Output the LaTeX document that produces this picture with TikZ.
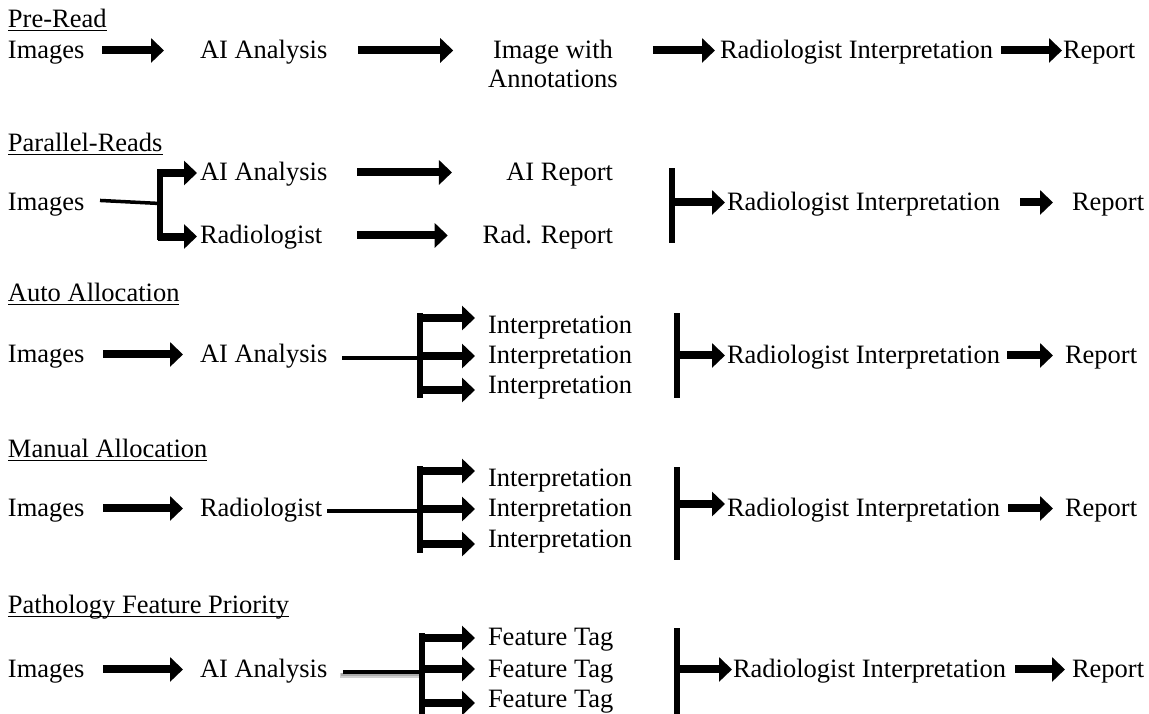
\documentclass[tikz,border=0pt]{standalone}
\usepackage{fontspec}
\setmainfont{Liberation Serif}
\usetikzlibrary{arrows.meta}
\begin{document}
\begin{tikzpicture}[x=1pt,y=-1pt,
  every node/.style={font=\fontsize{26.5}{29}\selectfont, inner sep=0pt, outer sep=0pt},
  lbl/.style={anchor=base west, text height=19.9pt, text depth=4.8pt},
  lblr/.style={anchor=base east, text height=19.9pt, text depth=4.8pt},
  ttl/.style={anchor=base west},
  uline/.style={line width=1.8pt},
  blk/.style={line width=8pt, -{Triangle[width=24pt,length=13pt]}},
  bar/.style={line width=5.5pt},
  lnk/.style={line width=3.5pt},
  shade/.style={line width=5pt, black, opacity=0.18},
]
\useasboundingbox (0,0) rectangle (1149,713);

% ---------- Pre-Read ----------
\node[ttl] (t1) at (8,27) {Pre-Read};
\draw[uline] ([yshift=-3.5pt]t1.base west) -- ([yshift=-3.5pt]t1.base east);
\node[lbl] (img1) at (8,58) {Images};
\node[lbl] (ai1) at (200,58) {AI Analysis};
% two-line label: its base anchor sits on the last line
\node[anchor=base, align=center] (iwa) at (553,87) {Image with\\Annotations};
\node[lbl] (ri1) at (720,58) {Radiologist Interpretation};
\node[lbl] (rep1) at (1063,58) {Report};
\draw[blk, shorten <=17.5pt, shorten >=36pt] (img1.east) -- (ai1.west);
\draw[blk, shorten <=30.5pt, shorten >=35pt] (ai1.east) -- (ai1.east -| iwa.west);
\draw[blk, shorten <=35pt, shorten >=5pt] (ri1.west -| iwa.east) -- (ri1.west);
\draw[blk, shorten <=8pt, shorten >=1pt] (ri1.east) -- (rep1.west);

% ---------- Parallel-Reads ----------
\node[ttl] (t2) at (8,151) {Parallel-Reads};
\draw[uline] ([yshift=-3.5pt]t2.base west) -- ([yshift=-3.5pt]t2.base east);
\node[lbl] (img2) at (8,210) {Images};
\node[lbl] (ai2) at (200,180) {AI Analysis};
\node[lbl] (rad2) at (200,243) {Radiologist};
\node[lblr] (air2) at (613,180) {AI Report};
\node[lblr] (radr2) at (613,243) {Rad. Report};
\node[lbl] (ri2) at (727,210) {Radiologist Interpretation};
\node[lbl] (rep2) at (1072,210) {Report};
\coordinate (j2) at (160,203.5);
\coordinate (b2t) at (160,169);
\coordinate (b2b) at (160,240);
\coordinate (s2a) at (157.5,173);
\coordinate (s2b) at (157.5,236.5);
\coordinate (r2t) at (672,168);
\coordinate (r2b) at (672,243);
\draw[lnk] ([xshift=15.5pt,yshift=2pt]img2.east) -- (j2);
\draw[bar] (b2t) -- (b2b);
\draw[blk, shorten >=3pt] (s2a) -- (s2a -| ai2.west);
\draw[blk, shorten >=3pt] (s2b) -- (s2b -| rad2.west);
\draw[blk, shorten <=29.7pt, shorten >=54.3pt] (ai2.east) -- (ai2.east -| air2.west);
\draw[blk, shorten <=34.8pt, shorten >=35pt] (rad2.east) -- (rad2.east -| radr2.west);
\draw[bar] (r2t) -- (r2b);
\draw[blk, shorten >=2pt] (r2t |- ri2.west) -- (ri2.west);
\draw[blk, shorten <=20pt, shorten >=19pt] (ri2.east) -- (rep2.west);

% ---------- Auto Allocation ----------
\node[ttl] (t3) at (8,301) {Auto Allocation};
\draw[uline] ([yshift=-3.5pt]t3.base west) -- ([yshift=-3.5pt]t3.base east);
\node[lbl] (img3) at (8,362) {Images};
\node[lbl] (ai3) at (200,362) {AI Analysis};
\node[lbl] (int3a) at (488,333) {Interpretation};
\node[lbl] (int3b) at (488,363) {Interpretation};
\node[lbl] (int3c) at (488,393) {Interpretation};
\node[lbl] (ri3) at (727,363) {Radiologist Interpretation};
\node[lbl] (rep3) at (1065,363) {Report};
\coordinate (j3) at (420,358);
\coordinate (b3t) at (420,313);
\coordinate (b3b) at (420,398);
\coordinate (s3a) at (417.5,318);
\coordinate (s3b) at (417.5,356);
\coordinate (s3c) at (417.5,390);
\coordinate (r3t) at (677,313);
\coordinate (r3b) at (677,398);
\draw[blk, shorten <=18.5pt, shorten >=17pt] (img3.east) -- (ai3.west);
\draw[lnk, shorten <=15pt] (j3 -| ai3.east) -- (j3);
\draw[bar] (b3t) -- (b3b);
\draw[blk, shorten >=13pt] (s3a) -- (s3a -| int3a.west);
\draw[blk, shorten >=13pt] (s3b) -- (s3b -| int3b.west);
\draw[blk, shorten >=13pt] (s3c) -- (s3c -| int3c.west);
\draw[bar] (r3t) -- (r3b);
\draw[blk, shorten >=2pt] (r3t |- ri3.west) -- (ri3.west);
\draw[blk, shorten <=7pt, shorten >=12pt] (ri3.east) -- (rep3.west);

% ---------- Manual Allocation ----------
\node[ttl] (t4) at (8,457) {Manual Allocation};
\draw[uline] ([yshift=-3.5pt]t4.base west) -- ([yshift=-3.5pt]t4.base east);
\node[lbl] (img4) at (8,516) {Images};
\node[lbl] (rad4) at (200,516) {Radiologist};
\node[lbl] (int4a) at (488,486) {Interpretation};
\node[lbl] (int4b) at (488,516) {Interpretation};
\node[lbl] (int4c) at (488,547) {Interpretation};
\node[lbl] (ri4) at (727,516) {Radiologist Interpretation};
\node[lbl] (rep4) at (1065,516) {Report};
\coordinate (j4) at (420,511);
\coordinate (b4t) at (420,466);
\coordinate (b4b) at (420,553);
\coordinate (s4a) at (417.5,471);
\coordinate (s4b) at (417.5,509);
\coordinate (s4c) at (417.5,544);
\coordinate (r4t) at (677,467);
\coordinate (r4b) at (677,560);
\coordinate (s4r) at (677,504);
\draw[blk, shorten <=18.5pt, shorten >=17pt] (img4.east) -- (rad4.west);
\draw[lnk, shorten <=5pt] (j4 -| rad4.east) -- (j4);
\draw[bar] (b4t) -- (b4b);
\draw[blk, shorten >=13pt] (s4a) -- (s4a -| int4a.west);
\draw[blk, shorten >=13pt] (s4b) -- (s4b -| int4b.west);
\draw[blk, shorten >=13pt] (s4c) -- (s4c -| int4c.west);
\draw[bar] (r4t) -- (r4b);
\draw[blk, shorten >=2pt] (s4r) -- (s4r -| ri4.west);
\draw[blk, shorten <=8pt, shorten >=12pt] (ri4.east) -- (rep4.west);

% ---------- Pathology Feature Priority ----------
\node[ttl] (t5) at (8,613) {Pathology Feature Priority};
\draw[uline] ([yshift=-3.5pt]t5.base west) -- ([yshift=-3.5pt]t5.base east);
\node[lbl] (img5) at (8,677) {Images};
\node[lbl] (ai5) at (200,677) {AI Analysis};
\node[lbl] (ft5a) at (488,645) {Feature Tag};
\node[lbl] (ft5b) at (488,677) {Feature Tag};
\node[lbl] (ft5c) at (488,707) {Feature Tag};
\node[lbl] (ri5) at (733,677) {Radiologist Interpretation};
\node[lbl] (rep5) at (1072,677) {Report};
\coordinate (j5) at (422,672);
\coordinate (b5t) at (422,633);
\coordinate (b5b) at (422,716);
\coordinate (s5a) at (419.5,638);
\coordinate (s5b) at (419.5,669);
\coordinate (s5c) at (419.5,703);
\coordinate (r5t) at (677,628);
\coordinate (r5b) at (677,716);
\draw[blk, shorten <=18.5pt, shorten >=17pt] (img5.east) -- (ai5.west);
% soft shadow under the link line
\draw[shade, shorten <=13pt] ([yshift=-3pt]j5 -| ai5.east) -- ([yshift=-3pt]j5);
\draw[shade, line width=3pt, shorten <=14pt] ([yshift=-2.5pt]j5 -| ai5.east) -- ([yshift=-2.5pt]j5);
\draw[lnk, shorten <=15.7pt] (j5 -| ai5.east) -- (j5);
\draw[bar] (b5t) -- (b5b);
\draw[blk, shorten >=13pt] (s5a) -- (s5a -| ft5a.west);
\draw[blk, shorten >=13pt] (s5b) -- (s5b -| ft5b.west);
\draw[blk, shorten >=13pt] (s5c) -- (s5c -| ft5c.west);
\draw[bar] (r5t) -- (r5b);
\draw[blk, shorten >=1pt] (r5t |- ri5.west) -- (ri5.west);
\draw[blk, shorten <=9pt, shorten >=7pt] (ri5.east) -- (rep5.west);
\end{tikzpicture}
\end{document}
